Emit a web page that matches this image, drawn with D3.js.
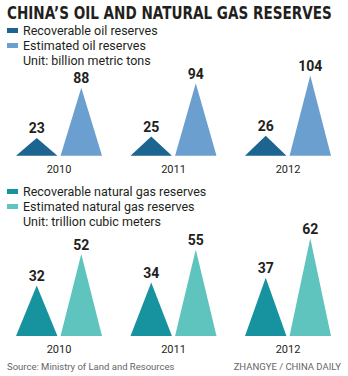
<!DOCTYPE html>
<html><head><meta charset="utf-8">
<script src="https://cdn.jsdelivr.net/npm/d3@7"></script>
<style>
body{margin:0;background:#fff;}
svg{display:block;font-family:Roboto,"Open Sans",sans-serif;}
</style></head><body>
<svg id="c" width="348" height="376"></svg>
<script>
const years = ["2010","2011","2012"];
const oilRecoverable = [23,25,26];
const oilEstimated = [88,94,104];
const gasRecoverable = [32,34,37];
const gasEstimated = [52,55,62];
const oilSeries = ["Recoverable oil reserves","Estimated oil reserves"];
const gasSeries = ["Recoverable natural gas reserves","Estimated natural gas reserves"];
const oilColors = ["#1b6590","#6b9fcf"];
const gasColors = ["#16939e","#5fc3be"];

const svg = d3.select("#c");
svg.append("rect").attr("width",348).attr("height",376).attr("fill","#fff");

const title = svg.append("text").attr("x",0).attr("y",0)
  .attr("font-family","'DejaVu Sans',sans-serif").attr("font-weight","bold")
  .attr("font-size",17).attr("fill","#231f20")
  .text("CHINA\u2019S OIL AND NATURAL GAS RESERVES");
const tl = title.node().getComputedTextLength();
title.attr("transform",`translate(7,19) scale(${325/tl},1)`);

const xg = d3.scaleBand().domain(years).range([2,345.5]).padding(0);
const inner = d3.scaleBand().domain([0,1]).range([14,100]).paddingInner(0.07);

function legend(y0, labels, colors, unit){
  labels.forEach((l,i)=>{
    const yy = y0 + i*15;
    svg.append("rect").attr("x",7).attr("y",yy-2.5).attr("width",11).attr("height",5).attr("fill",colors[i]);
    svg.append("text").attr("x",23).attr("y",yy+4.3).attr("font-size",12.5).attr("fill","#231f20").text(l);
  });
  svg.append("text").attr("x",23).attr("y",y0+30+4.3).attr("font-size",12.5).attr("fill","#231f20").text(unit);
}

function panel(base, pxPerUnit, rec, est, colors, yearY){
  const maxV = d3.max(est);
  const y = d3.scaleLinear().domain([0,maxV]).range([base, base - maxV*pxPerUnit]);
  const line = d3.line();
  years.forEach((yr,gi)=>{
    const g0 = xg(yr);
    [rec[gi], est[gi]].forEach((v,si)=>{
      const x0 = g0 + inner(si), w = inner.bandwidth();
      svg.append("path").attr("d", line([[x0,y(0)],[x0+w/2,y(v)],[x0+w,y(0)]])+"Z").attr("fill",colors[si]);
      svg.append("text").attr("x",x0+w/2).attr("y",y(v)-4.5).attr("text-anchor","middle")
        .attr("font-size",14).attr("font-weight","bold").attr("fill","#231f20").text(v);
    });
    svg.append("text").attr("x",g0+inner(0)+ (inner(1)+inner.bandwidth()-inner(0))/2).attr("y",yearY)
      .attr("text-anchor","middle").attr("font-size",11).attr("fill","#231f20").text(yr);
  });
}

legend(30.5, oilSeries, oilColors, "Unit: billion metric tons");
panel(155.7, 0.772, oilRecoverable, oilEstimated, oilColors, 173);
legend(191.5, gasSeries, gasColors, "Unit: trillion cubic meters");
panel(336, 1.575, gasRecoverable, gasEstimated, gasColors, 353);

svg.append("text").attr("x",7).attr("y",370).attr("font-size",9.5).attr("fill","#666").text("Source: Ministry of Land and Resources");
svg.append("text").attr("x",341).attr("y",370).attr("text-anchor","end").attr("font-size",9.5).attr("fill","#666").text("ZHANGYE / CHINA DAILY");
</script></body></html>
